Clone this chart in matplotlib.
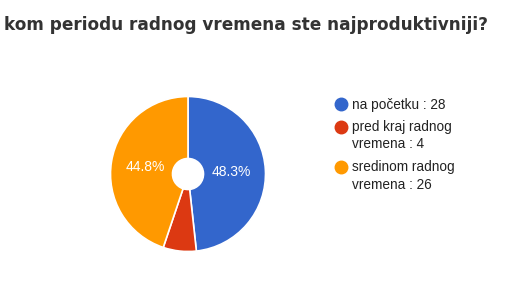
import matplotlib
matplotlib.use("Agg")
import matplotlib.pyplot as plt
from matplotlib.lines import Line2D

title = "kom periodu radnog vremena ste najproduktivniji?"
categories = ["na početku", "pred kraj radnog\nvremena", "sredinom radnog\nvremena"]
values = [28, 4, 26]
colors = ["#3366CC", "#DC3912", "#FF9900"]

W, H = 512, 288
fig = plt.figure(figsize=(W / 100, H / 100), dpi=100)
fig.patch.set_facecolor("white")

# title
fig.text(488 / W, 1 - 30 / H, title, ha="right", va="baseline",
         fontsize=12.15, color="#333333", family="DejaVu Sans", fontweight="bold")

# pie
cx, cy, r = 188, 174, 77.5
half = 82
ax = fig.add_axes([(cx - half) / W, (H - cy - half) / H, 2 * half / W, 2 * half / H])

def fmt(p):
    return f"{p:.1f}%" if p > 10 else ""

wedges, texts, autotexts = ax.pie(
    values, colors=colors, startangle=90, counterclock=False,
    autopct=fmt, pctdistance=0.56, radius=1.0,
    wedgeprops=dict(width=0.8, edgecolor="white", linewidth=1.2),
    textprops=dict(color="white", fontsize=10, family="Liberation Sans"))
ax.set_xlim(-half / r, half / r)
ax.set_ylim(-half / r, half / r)
ax.set_aspect("equal")
ax.axis("off")

# legend (manual)
y = 104
line_h = 18
for cat, v, c in zip(categories, values, colors):
    label = f"{cat} : {v}"
    fig.add_artist(Line2D([341 / W], [1 - y / H], marker="o", markersize=9,
                          color=c, linestyle="none", transform=fig.transFigure))
    nlines = label.count("\n") + 1
    fig.text(352 / W, 1 - (y - 6.5) / H, label, ha="left", va="top",
             fontsize=9.8, color="#222222", family="Liberation Sans",
             linespacing=1.28)
    y += nlines * line_h + 4.5

fig.savefig("out.png", dpi=100, facecolor="white")
